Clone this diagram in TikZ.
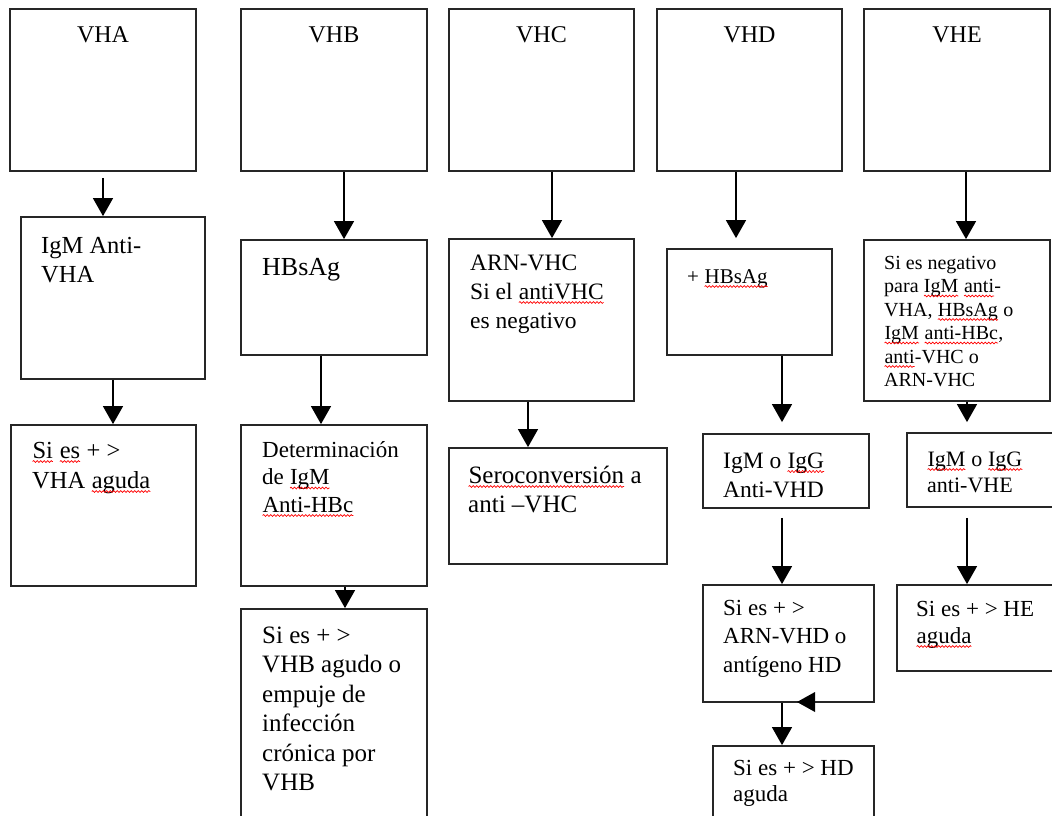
\documentclass[tikz,border=0pt]{standalone}
\usepackage{fontspec}
\setmainfont{Liberation Serif}
\usetikzlibrary{arrows.meta,decorations.pathmorphing}
\newcommand\wavy[1]{\tikz[baseline=(wv.base)]{\node[inner sep=0pt,outer sep=0pt](wv){#1};\draw[red,line width=0.7pt,decorate,decoration={snake,amplitude=0.9pt,segment length=3.5pt}]([yshift=-3.5pt]wv.base west)--([yshift=-3.5pt]wv.base east);}}
\newcommand\mkbox[5]{\node[box,minimum width={#4-#2},minimum height={#5-#3}] (#1) at ({(#2+#4)/2},{(#3+#5)/2}) {};}
\newcommand\mktext[6]{\node[txt,font=\fontsize{#4}{#5}\selectfont] (#1) at (#2,#3) {\begin{tabular}[t]{@{}l@{}}#6\end{tabular}};}
\tikzset{
  box/.style={draw=black!85,line width=1.8pt,inner sep=0pt,rectangle},
  txt/.style={inner sep=0pt,anchor=base west},
  ttl/.style={inner sep=0pt,anchor=base,font=\fontsize{24}{29}\selectfont},
  arr/.style={draw=black,line width=1.3pt,-{Triangle[length=18pt,width=20pt]}}
}
\begin{document}
\begin{tikzpicture}[x=1pt,y=-1pt]
\fill[white] (0,0) rectangle (1052,816);
\useasboundingbox (0,0) rectangle (1052,816);
% boxes
\mkbox{A0}{10}{9}{196}{171}
\mkbox{A1}{21}{217}{205}{379}
\mkbox{A2}{11}{425}{196}{586}
\mkbox{B0}{241}{9}{427}{171}
\mkbox{B1}{241}{240}{427}{355}
\mkbox{B2}{241}{425}{427}{586}
\mkbox{B3}{241}{609}{427}{826}
\mkbox{C0}{449}{9}{634}{171}
\mkbox{C1}{449}{239}{634}{401}
\mkbox{C2}{449}{448}{667}{564}
\mkbox{D0}{657}{9}{842}{171}
\mkbox{D1}{667}{249}{832}{355}
\mkbox{D2}{703}{434}{869}{508}
\mkbox{D3}{703}{585}{874}{702}
\mkbox{D4}{713}{746}{874}{826}
\mkbox{E0}{864}{9}{1050}{171}
\mkbox{E1}{864}{240}{1050}{401}
\mkbox{E2}{907}{433}{1062}{507}
\mkbox{E3}{897}{585}{1062}{671}
% titles
\node[ttl] (tA) at (103,43) {VHA};
\node[ttl] (tB) at (334,43) {VHB};
\node[ttl] (tC) at (541.5,43) {VHC};
\node[ttl] (tD) at (749.5,43) {VHD};
\node[ttl] (tE) at (957,43) {VHE};
% texts
\mktext{xA1}{41}{253}{24.5}{29}{IgM Anti-\\VHA}
\mktext{xA2}{32}{458}{24.5}{30}{\wavy{Si} \wavy{es} + >\\VHA \wavy{aguda}}
\mktext{xB1}{262}{275}{26}{29}{HBsAg}
\mktext{xB2}{262}{457}{23}{27.5}{Determinación\\de \wavy{IgM}\\\wavy{Anti-HBc}}
\mktext{xB3}{262}{643}{25}{29.5}{Si es + >\\VHB agudo o\\empuje de\\infección\\crónica por\\VHB}
\mktext{xC1}{470}{270}{23.5}{29}{ARN-VHC\\Si el \wavy{antiVHC}\\es negativo}
\mktext{xC2}{468}{483}{25}{29}{\wavy{Seroconversión} a\\anti –VHC}
\mktext{xD1}{687}{283}{21}{27}{+ \wavy{HBsAg}}
\mktext{xD2}{723}{468}{23.5}{29}{IgM o \wavy{IgG}\\Anti-VHD}
\mktext{xD3}{723}{615}{23}{28.5}{Si es + >\\ARN-VHD o\\antígeno HD}
\mktext{xD4}{733}{775}{23}{26}{Si es + > HD\\aguda}
\mktext{xE1}{884}{269}{20}{23.5}{Si es negativo\\para \wavy{IgM} \wavy{anti}-\\VHA, \wavy{HBsAg} o\\\wavy{IgM} \wavy{anti-HBc},\\\wavy{anti}-VHC o\\ARN-VHC}
\mktext{xE2}{927}{466}{22}{26}{\wavy{IgM} o \wavy{IgG}\\anti-VHE}
\mktext{xE3}{916}{616}{23}{27}{Si es + > HE\\\wavy{aguda}}
% connectors
\draw[arr,shorten <=6pt] (A0.south) -- (A0.south |- A1.north);
\draw[arr] (A1.south) -- (A1.south |- A2.north);
\draw[arr] ([xshift=10pt]B0.south) -- ([xshift=10pt]B0.south |- B1.north);
\draw[arr] ([xshift=-13pt]B1.south) -- ([xshift=-13pt]B1.south |- B2.north);
\draw[arr] ([xshift=11pt]B2.south) -- ([xshift=11pt]B2.south |- B3.north);
\draw[arr] ([xshift=10.5pt]C0.south) -- ([xshift=10.5pt]C0.south |- C1.north);
\draw[arr] ([xshift=-13.5pt]C1.south) -- ([xshift=-13.5pt]C1.south |- C2.north);
\draw[arr,shorten >=10pt] ([xshift=-13.5pt]D0.south) -- ([xshift=-13.5pt]D0.south |- D1.north);
\draw[arr,shorten >=11pt] ([xshift=32.5pt]D1.south) -- ([xshift=32.5pt]D1.south |- D2.north);
\draw[arr,shorten <=9pt] ([xshift=-4pt]D2.south) -- ([xshift=-4pt]D2.south |- D3.north);
\draw[arr] ([xshift=-6.5pt]D3.south) -- ([xshift=-6.5pt]D3.south |- D4.north);
\draw[arr] ([xshift=9pt]E0.south) -- ([xshift=9pt]E0.south |- E1.north);
\draw[arr,shorten >=10pt] ([xshift=10pt]E1.south) -- ([xshift=10pt]E1.south |- E2.north);
\draw[arr,shorten <=10pt] ([xshift=-17.5pt]E2.south) -- ([xshift=-17.5pt]E2.south |- E3.north);
% stray left-pointing arrowhead on the bottom edge of D3
\fill[black] (797,702) -- (815,692) -- (815,712) -- cycle;
\end{tikzpicture}
\end{document}
